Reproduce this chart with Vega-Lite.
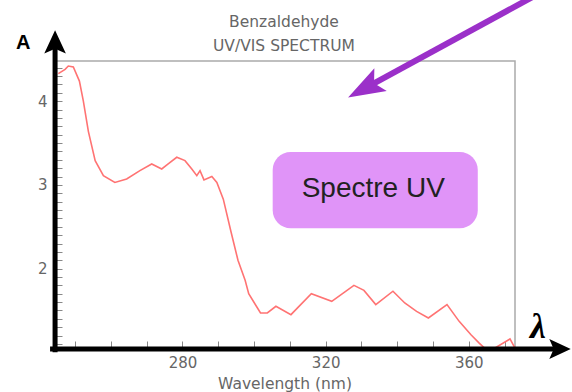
{
  "$schema": "https://vega.github.io/schema/vega-lite/v6.json",
  "autosize": "none",
  "width": 461,
  "height": 288,
  "padding": {"left": 54, "top": 61, "right": 57, "bottom": 43},
  "config": {
    "view": {"stroke": "#aaa", "strokeWidth": 1.5},
    "font": "DejaVu Sans"
  },
  "datasets": {
    "spectrum": [
      {"wavelength": 245.3, "absorbance": 4.33},
      {"wavelength": 247.2, "absorbance": 4.38},
      {"wavelength": 248.1, "absorbance": 4.42},
      {"wavelength": 249.5, "absorbance": 4.41},
      {"wavelength": 251.2, "absorbance": 4.24},
      {"wavelength": 252.3, "absorbance": 4.0},
      {"wavelength": 253.7, "absorbance": 3.64},
      {"wavelength": 255.6, "absorbance": 3.29},
      {"wavelength": 257.9, "absorbance": 3.11},
      {"wavelength": 261.1, "absorbance": 3.03},
      {"wavelength": 264.4, "absorbance": 3.07},
      {"wavelength": 268.1, "absorbance": 3.17},
      {"wavelength": 271.4, "absorbance": 3.25},
      {"wavelength": 274.2, "absorbance": 3.19},
      {"wavelength": 276.0, "absorbance": 3.25},
      {"wavelength": 278.4, "absorbance": 3.33},
      {"wavelength": 280.7, "absorbance": 3.29},
      {"wavelength": 282.6, "absorbance": 3.19},
      {"wavelength": 284.0, "absorbance": 3.11},
      {"wavelength": 284.9, "absorbance": 3.17},
      {"wavelength": 286.0, "absorbance": 3.06},
      {"wavelength": 288.2, "absorbance": 3.10},
      {"wavelength": 289.6, "absorbance": 3.03},
      {"wavelength": 291.4, "absorbance": 2.83},
      {"wavelength": 293.5, "absorbance": 2.45},
      {"wavelength": 295.5, "absorbance": 2.10},
      {"wavelength": 297.5, "absorbance": 1.86},
      {"wavelength": 298.5, "absorbance": 1.70},
      {"wavelength": 301.8, "absorbance": 1.47},
      {"wavelength": 303.7, "absorbance": 1.47},
      {"wavelength": 306.1, "absorbance": 1.55},
      {"wavelength": 310.3, "absorbance": 1.45},
      {"wavelength": 316.0, "absorbance": 1.70},
      {"wavelength": 321.7, "absorbance": 1.61},
      {"wavelength": 327.9, "absorbance": 1.80},
      {"wavelength": 330.7, "absorbance": 1.74},
      {"wavelength": 334.0, "absorbance": 1.57},
      {"wavelength": 338.8, "absorbance": 1.73},
      {"wavelength": 342.1, "absorbance": 1.59},
      {"wavelength": 345.4, "absorbance": 1.49},
      {"wavelength": 348.7, "absorbance": 1.41},
      {"wavelength": 353.9, "absorbance": 1.57},
      {"wavelength": 357.3, "absorbance": 1.37},
      {"wavelength": 360.6, "absorbance": 1.21},
      {"wavelength": 362.9, "absorbance": 1.11},
      {"wavelength": 364.4, "absorbance": 1.05},
      {"wavelength": 367.2, "absorbance": 1.05},
      {"wavelength": 371.5, "absorbance": 1.16},
      {"wavelength": 372.9, "absorbance": 1.05}
    ],
    "titleLines": [
      {"x": 308.35, "y": 4.89, "text": "Benzaldehyde"},
      {"x": 308.35, "y": 4.605, "text": "UV/VIS SPECTRUM"}
    ],
    "box": [{"x1": 305.2, "x2": 362.5, "y1": 3.394, "y2": 2.483}],
    "boxLabel": [{"x": 333.3, "y": 2.855, "text": "Spectre UV"}],
    "pointer": [{"x1": 381.3, "y1": 5.326, "x2": 330.8, "y2": 4.151}],
    "pointerHead": [{"x": 330.8, "y": 4.151}],
    "yArrow": [{"x1": 244.4, "y1": 1.0, "x2": 244.4, "y2": 4.705}],
    "yHead": [{"x": 244.4, "y": 4.705}],
    "xArrow": [{"x1": 243.0, "y1": 1.04, "x2": 385.4, "y2": 1.04}],
    "xHead": [{"x": 385.4, "y": 1.04}],
    "yLabel": [{"x": 235.5, "y": 4.621, "text": "A"}],
    "xLabel": [{"x": 379.3, "y": 1.168, "text": "λ"}]
  },
  "layer": [
    {
      "data": {"name": "box"},
      "mark": {"type": "rect", "fill": "#e094f8", "cornerRadius": 18},
      "encoding": {
        "x": {"field": "x1", "type": "quantitative", "scale": {"domain": [244.1, 372.9], "nice": false, "zero": false},
          "axis": {
            "title": "Wavelength (nm)",
            "values": [250, 260, 270, 280, 290, 300, 310, 320, 330, 340, 350, 360, 370],
            "tickCount": 200,
            "labelExpr": "datum.value % 40 == 0 ? format(datum.value, 'd') : ''",
            "labelOverlap": false,
            "domain": false,
            "grid": false,
            "tickSize": -8,
            "tickColor": "#888",
            "tickWidth": 1,
            "labelPadding": 14,
            "labelFontSize": 15,
            "labelColor": "#666",
            "labelFont": "DejaVu Sans",
            "labelFlush": false,
            "titleFont": "DejaVu Sans",
            "titleFontSize": 15.5,
            "titleFontWeight": "normal",
            "titleColor": "#666",
            "titleY": 34,
            "titleBaseline": "middle"
          }},
        "x2": {"field": "x2"},
        "y": {"field": "y1", "type": "quantitative", "scale": {"domain": [1.04, 4.48], "nice": false, "zero": false},
          "axis": {
            "title": null,
            "values": [1.1, 1.2, 1.3, 1.4, 1.5, 1.6, 1.7, 1.8, 1.9, 2, 2.1, 2.2, 2.3, 2.4, 2.5, 2.6, 2.7, 2.8, 2.9, 3, 3.1, 3.2, 3.3, 3.4, 3.5, 3.6, 3.7, 3.8, 3.9, 4, 4.1, 4.2, 4.3, 4.4],
            "tickCount": 200,
            "labelExpr": "abs(datum.value - round(datum.value)) < 0.001 ? format(round(datum.value), 'd') : ''",
            "labelOverlap": false,
            "domain": false,
            "grid": false,
            "tickSize": -8,
            "tickColor": "#888",
            "tickWidth": 1,
            "labelPadding": 15,
            "labelFontSize": 15,
            "labelColor": "#666",
            "labelFont": "DejaVu Sans",
            "labelFlush": false
          }},
        "y2": {"field": "y2"}
      }
    },
    {
      "data": {"name": "spectrum"},
      "mark": {"type": "line", "color": "#ff7373", "strokeWidth": 1.6},
      "encoding": {
        "x": {"field": "wavelength", "type": "quantitative", "scale": {"domain": [244.1, 372.9], "nice": false, "zero": false}},
        "y": {"field": "absorbance", "type": "quantitative", "scale": {"domain": [1.04, 4.48], "nice": false, "zero": false}}
      }
    },
    {
      "data": {"name": "titleLines"},
      "mark": {"type": "text", "font": "DejaVu Sans", "fontSize": 15.5, "color": "#666", "align": "center", "baseline": "alphabetic"},
      "encoding": {
        "x": {"field": "x", "type": "quantitative", "scale": {"domain": [244.1, 372.9], "nice": false, "zero": false}},
        "y": {"field": "y", "type": "quantitative", "scale": {"domain": [1.04, 4.48], "nice": false, "zero": false}},
        "text": {"field": "text"}
      }
    },
    {
      "data": {"name": "boxLabel"},
      "mark": {"type": "text", "font": "Liberation Sans", "fontSize": 28, "color": "#222", "align": "center", "baseline": "alphabetic"},
      "encoding": {
        "x": {"field": "x", "type": "quantitative", "scale": {"domain": [244.1, 372.9], "nice": false, "zero": false}},
        "y": {"field": "y", "type": "quantitative", "scale": {"domain": [1.04, 4.48], "nice": false, "zero": false}},
        "text": {"field": "text"}
      }
    },
    {
      "data": {"name": "pointer"},
      "mark": {"type": "rule", "color": "#9b30c9", "strokeWidth": 6},
      "encoding": {
        "x": {"field": "x1", "type": "quantitative", "scale": {"domain": [244.1, 372.9], "nice": false, "zero": false}},
        "y": {"field": "y1", "type": "quantitative", "scale": {"domain": [1.04, 4.48], "nice": false, "zero": false}},
        "x2": {"field": "x2"},
        "y2": {"field": "y2"}
      }
    },
    {
      "data": {"name": "pointerHead"},
      "mark": {"type": "point", "shape": "M0,-1L0.7,1L0,0.6L-0.7,1Z", "size": 1369, "angle": 241.4, "filled": true, "color": "#9b30c9", "opacity": 1},
      "encoding": {
        "x": {"field": "x", "type": "quantitative", "scale": {"domain": [244.1, 372.9], "nice": false, "zero": false}},
        "y": {"field": "y", "type": "quantitative", "scale": {"domain": [1.04, 4.48], "nice": false, "zero": false}}
      }
    },
    {
      "data": {"name": "yArrow"},
      "mark": {"type": "rule", "color": "#000", "strokeWidth": 5},
      "encoding": {
        "x": {"field": "x1", "type": "quantitative", "scale": {"domain": [244.1, 372.9], "nice": false, "zero": false}},
        "y": {"field": "y1", "type": "quantitative", "scale": {"domain": [1.04, 4.48], "nice": false, "zero": false}},
        "x2": {"field": "x2"},
        "y2": {"field": "y2"}
      }
    },
    {
      "data": {"name": "yHead"},
      "mark": {"type": "point", "shape": "M0,-1L0.9,0.95L0,0.55L-0.9,0.95Z", "size": 576, "angle": 0, "filled": true, "color": "#000", "opacity": 1},
      "encoding": {
        "x": {"field": "x", "type": "quantitative", "scale": {"domain": [244.1, 372.9], "nice": false, "zero": false}},
        "y": {"field": "y", "type": "quantitative", "scale": {"domain": [1.04, 4.48], "nice": false, "zero": false}}
      }
    },
    {
      "data": {"name": "xArrow"},
      "mark": {"type": "rule", "color": "#000", "strokeWidth": 5},
      "encoding": {
        "x": {"field": "x1", "type": "quantitative", "scale": {"domain": [244.1, 372.9], "nice": false, "zero": false}},
        "y": {"field": "y1", "type": "quantitative", "scale": {"domain": [1.04, 4.48], "nice": false, "zero": false}},
        "x2": {"field": "x2"},
        "y2": {"field": "y2"}
      }
    },
    {
      "data": {"name": "xHead"},
      "mark": {"type": "point", "shape": "M0,-1L0.9,0.95L0,0.55L-0.9,0.95Z", "size": 484, "angle": 90, "filled": true, "color": "#000", "opacity": 1},
      "encoding": {
        "x": {"field": "x", "type": "quantitative", "scale": {"domain": [244.1, 372.9], "nice": false, "zero": false}},
        "y": {"field": "y", "type": "quantitative", "scale": {"domain": [1.04, 4.48], "nice": false, "zero": false}}
      }
    },
    {
      "data": {"name": "yLabel"},
      "mark": {"type": "text", "font": "Liberation Sans", "fontSize": 20, "fontWeight": "bold", "color": "#000", "align": "center", "baseline": "alphabetic"},
      "encoding": {
        "x": {"field": "x", "type": "quantitative", "scale": {"domain": [244.1, 372.9], "nice": false, "zero": false}},
        "y": {"field": "y", "type": "quantitative", "scale": {"domain": [1.04, 4.48], "nice": false, "zero": false}},
        "text": {"field": "text"}
      }
    },
    {
      "data": {"name": "xLabel"},
      "mark": {"type": "text", "font": "Liberation Serif", "fontSize": 36, "fontStyle": "italic", "fontWeight": "bold", "color": "#000", "align": "center", "baseline": "alphabetic"},
      "encoding": {
        "x": {"field": "x", "type": "quantitative", "scale": {"domain": [244.1, 372.9], "nice": false, "zero": false}},
        "y": {"field": "y", "type": "quantitative", "scale": {"domain": [1.04, 4.48], "nice": false, "zero": false}},
        "text": {"field": "text"}
      }
    }
  ]
}
